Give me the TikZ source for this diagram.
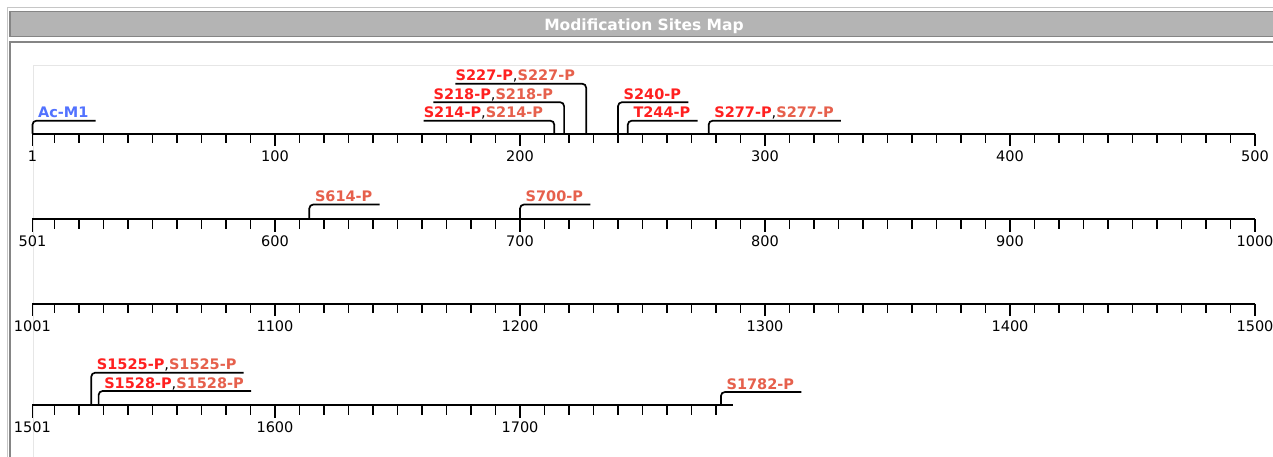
\documentclass[tikz,border=0pt]{standalone}
\usepackage{fontspec}
\setmainfont{DejaVu Sans}
\usetikzlibrary{calc}
\definecolor{hdrfill}{HTML}{B4B4B4}
\definecolor{hdrline}{HTML}{858585}
\definecolor{outerline}{HTML}{C6C6C6}
\definecolor{plotline}{HTML}{E6E6E6}
\definecolor{sitered}{HTML}{FF2020}
\definecolor{sitesalmon}{HTML}{E6604C}
\definecolor{siteblue}{HTML}{5272FF}
\newcommand\RedT[1]{\textcolor{sitered}{#1}}
\newcommand\SalT[1]{\textcolor{sitesalmon}{#1}}
\newcommand\Cma{{\mdseries\color{black},}}
\newcommand\MkR[5]{%
  \coordinate (#1s) at (#2,#3);
  \node[lbl,anchor=base west] (#1) at ({#2+5.5},{#3-#4-3}) {#5};
  \draw[mk] (#1s) |- ($(#1.base east)+(7,3)$);
}
\newcommand\MkL[5]{%
  \coordinate (#1s) at (#2,#3);
  \node[lbl,anchor=base east] (#1) at ({#2-11},{#3-#4-3}) {#5};
  \draw[mk] ($(#1.base west)+(0,3)$) -| (#1s);
}
\begin{document}
\begin{tikzpicture}[x=1pt,y=-1pt,
  lbl/.style={font=\bfseries\fontsize{14.5}{17}\selectfont, inner sep=0pt},
  num/.style={font=\fontsize{14.5}{17}\selectfont, inner sep=0pt, anchor=base},
  mk/.style={line width=1.7pt, rounded corners=4pt, draw=black},
  axisline/.style={line width=2pt, draw=black},
  tk/.style={line width=1.8pt, draw=black}]
\useasboundingbox (0,0) rectangle (1273,457);
\clip (0,0) rectangle (1273,457);
\fill[white] (0,0) rectangle (1273,457);
% frame
\draw[outerline, line width=1.2pt] (7.3,470) -- (7.3,7.3) -- (1290,7.3);
\draw[hdrline, fill=hdrfill, line width=1.6pt] (10,11.7) rectangle (1290,36.7);
\draw[hdrline, line width=1.6pt] (10,470) -- (10,42.3) -- (1290,42.3);
\draw[plotline, line width=1pt] (33.3,470) -- (33.3,66) -- (1290,66);
\node[font=\bfseries\fontsize{15.5}{18}\selectfont, text=white, anchor=base, inner sep=0pt] (title) at (644,30.5) {Modification Sites Map};
% full rows
\foreach \ry/\o/\r in {133.7/0/a, 219/500/b, 303.5/1000/c} {
  \draw[axisline] ({30+2.45},\ry) -- ({30+2.45*500},\ry);
  \foreach \t in {10,20,...,490} \draw[tk] ({30+2.45*\t},\ry) -- ++(0,9.5);
  \foreach \t in {1,100,200,300,400,500} {
    \draw[tk] ({30+2.45*\t},\ry) -- ++(0,12.5);
    \pgfmathtruncatemacro\lab{\o+\t}
    \node[num] (n\r\t) at ({30+2.45*\t},{\ry+27.7}) {\lab};
  }
}
% last row
\draw[axisline] ({30+2.45},405) -- ({30+2.45*287},405);
\foreach \t in {10,20,...,280} \draw[tk] ({30+2.45*\t},405) -- ++(0,9.5);
\foreach \t in {1,100,200} {
  \draw[tk] ({30+2.45*\t},405) -- ++(0,12.5);
  \pgfmathtruncatemacro\lab{1500+\t}
  \node[num] (nd\t) at ({30+2.45*\t},{405+27.7}) {\lab};
}
% row 1 sites
\MkR{acm1}{32.45}{133.7}{13}{\textcolor{siteblue}{Ac-M1}}
\MkL{s214}{554.3}{133.7}{13}{\RedT{S214-P}\Cma\SalT{S214-P}}
\MkL{s218}{564.1}{133.7}{31.5}{\RedT{S218-P}\Cma\SalT{S218-P}}
\MkL{s227}{586.15}{133.7}{50}{\RedT{S227-P}\Cma\SalT{S227-P}}
\MkR{s240}{618}{133.7}{31.5}{\RedT{S240-P}}
\MkR{t244}{627.8}{133.7}{13}{\RedT{T244-P}}
\MkR{s277}{708.65}{133.7}{13}{\RedT{S277-P}\Cma\SalT{S277-P}}
% row 2 sites
\MkR{s614}{309.3}{219}{14.5}{\SalT{S614-P}}
\MkR{s700}{520}{219}{14.5}{\SalT{S700-P}}
% row 4 sites
\MkR{s1525}{91.25}{405}{32.3}{\RedT{S1525-P}\Cma\SalT{S1525-P}}
\MkR{s1528}{98.6}{405}{14}{\RedT{S1528-P}\Cma\SalT{S1528-P}}
\MkR{s1782}{720.9}{405}{13}{\SalT{S1782-P}}
\end{tikzpicture}
\end{document}
